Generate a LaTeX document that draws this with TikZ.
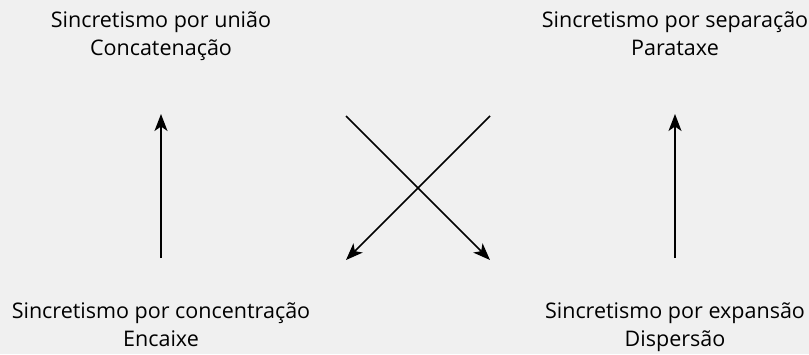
\documentclass[tikz,border=0pt]{standalone}
\usepackage{fontspec}
\setmainfont{Open Sans}
\usetikzlibrary{arrows.meta}
\definecolor{bg}{HTML}{F0F0F0}
\tikzset{
  lbl/.style={align=center, font=\fontsize{21.5}{28}\selectfont, text=black, inner sep=0pt, anchor=base},
  arr/.style={line width=1.6pt, -{Stealth[length=17pt,width=13pt,inset=4.5pt]}}
}
\begin{document}
\begin{tikzpicture}[x=1pt,y=-1pt]
\fill[bg] (0,0) rectangle (809,354);
\useasboundingbox (0,0) rectangle (809,354);
\node[lbl] (tl) at (161,55) {Sincretismo por união\\Concatenação};
\node[lbl] (tr) at (675,55) {Sincretismo por separação\\Parataxe};
\node[lbl] (bl) at (161,346) {Sincretismo por concentração\\Encaixe};
\node[lbl] (br) at (675,346) {Sincretismo por expansão\\Dispersão};
\coordinate (la0) at (161,258);
\coordinate (la1) at (161,114);
\coordinate (ra0) at (675,258);
\coordinate (ra1) at (675,114);
\coordinate (c1s) at (346,116);
\coordinate (c1e) at (490,260);
\coordinate (c2s) at (490,116);
\coordinate (c2e) at (346,260);
\draw[arr] (la0) -- (la1);
\draw[arr] (ra0) -- (ra1);
\draw[arr] (c1s) -- (c1e);
\draw[arr] (c2s) -- (c2e);
\end{tikzpicture}
\end{document}
